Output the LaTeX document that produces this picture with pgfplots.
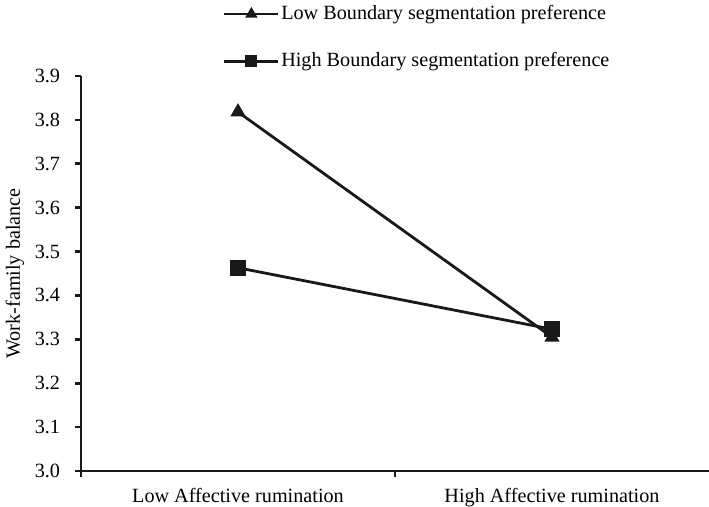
\documentclass[border=0pt]{standalone}
\usepackage{pgfplots}
\pgfplotsset{compat=1.18}
\usepackage{fontspec}
\setmainfont{Liberation Serif}
\begin{document}
\fontsize{20.2bp}{24bp}\selectfont
\begin{tikzpicture}
\begin{axis}[
  scale only axis, width=628bp, height=395bp,
  xmin=-0.5, xmax=1.5, ymin=3.0, ymax=3.9,
  axis x line*=bottom, axis y line*=left,
  axis line style={line width=2.8bp, color=black!90},
  tick align=outside, major tick length=6bp,
  tick style={line width=2.6bp, color=black!90},
  ytick={3.0,3.1,3.2,3.3,3.4,3.5,3.6,3.7,3.8,3.9},
  yticklabel style={xshift=-8bp, /pgf/number format/.cd, fixed, fixed zerofill, precision=1, assume math mode=true},
  xtick={-0.5,0.5}, xticklabels={,},
  extra x ticks={0,1},
  extra x tick labels={Low Affective rumination, High Affective rumination},
  extra x tick style={major tick length=0pt, xticklabel style={yshift=-10bp}},
  ylabel={Work-family balance},
  ylabel style={at={(rel axis cs:0,0.5)}, anchor=center, xshift=0bp, yshift=66bp},
  legend style={draw=none, fill=none, inner sep=0pt, outer sep=0pt,
    at={(axis description cs:0.2261,1.1824)}, anchor=north west,
    row sep=27bp, nodes={inner sep=1.5bp}},
  legend cell align=left,
  legend image code/.code={\draw[#1, line width=2.8bp, mark repeat=2, mark phase=2, every mark/.append style={scale=0.72}] plot coordinates {(0bp,0bp) (27bp,0bp) (54bp,0bp)};},
  clip=false,
]
\addplot[color=black!90, line width=2.8bp, mark=triangle*, mark size=6bp, mark options={solid}]
  coordinates {(0,3.818) (1,3.305)};
\addlegendentry{Low Boundary segmentation preference}
\addplot[color=black!90, line width=2.8bp, mark=square*, mark size=6.5bp, mark options={solid}]
  coordinates {(0,3.463) (1,3.323)};
\addlegendentry{High Boundary segmentation preference}
\coordinate (bl) at (rel axis cs:0,0);
\coordinate (tr) at (rel axis cs:1,1);
\end{axis}
\pgfresetboundingbox
\path ([xshift=-81bp,yshift=-36bp]bl) rectangle ([yshift=76bp]tr);
\end{tikzpicture}
\end{document}
